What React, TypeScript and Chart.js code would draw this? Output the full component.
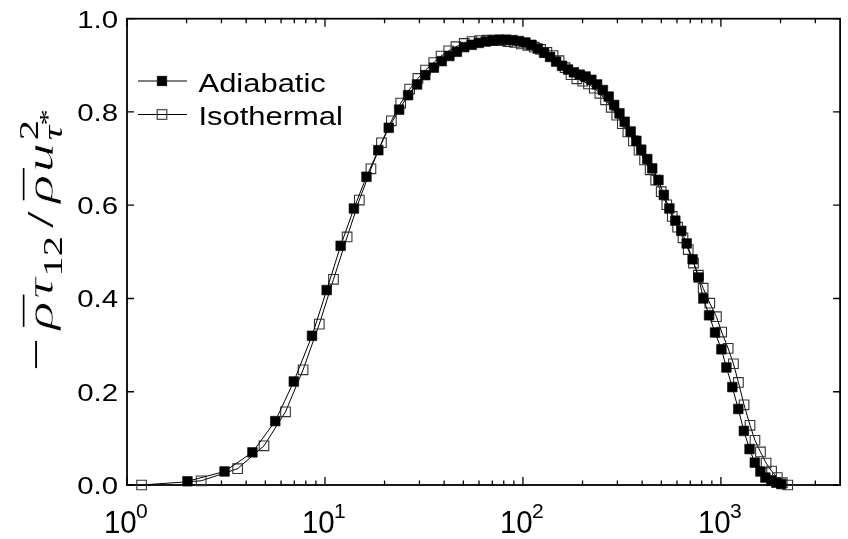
import React, { useEffect, useRef } from 'react';
import { Chart, registerables } from 'chart.js';

Chart.register(...registerables);

// ---- data ----
const adiabaticX = [2.02, 3.11, 4.30, 5.61, 6.96, 8.60, 10.2, 12.0, 14.0, 16.2, 18.6, 21.0, 23.7, 26.3, 29.2, 32.1, 35.5, 38.9, 42.5, 46.4, 50.5, 55.1, 59.8, 64.9, 70.2, 75.9, 82.1, 88.6, 95.5, 102.8, 110.5, 118.9, 127.8, 137.1, 147.1, 157.6, 169.0, 180.9, 193.6, 207.3, 221.6, 237.0, 253.4, 271.0, 289.0, 307.3, 326.6, 350, 374, 396, 424.6, 449.8, 483.7, 514.8, 549.3, 588.6, 630.8, 671.4, 719.5, 771.3, 815.3, 871.5, 934, 1006, 1066, 1142, 1224, 1306, 1395, 1483, 1584, 1677, 1798, 1905, 2018];
const adiabaticY = [0.008, 0.029, 0.070, 0.137, 0.222, 0.320, 0.418, 0.513, 0.593, 0.661, 0.718, 0.766, 0.805, 0.836, 0.859, 0.879, 0.895, 0.909, 0.920, 0.929, 0.939, 0.944, 0.948, 0.951, 0.953, 0.955, 0.955, 0.954, 0.952, 0.949, 0.944, 0.936, 0.927, 0.918, 0.908, 0.899, 0.891, 0.885, 0.880, 0.876, 0.869, 0.859, 0.847, 0.833, 0.815, 0.797, 0.779, 0.758, 0.738, 0.719, 0.699, 0.679, 0.654, 0.622, 0.593, 0.567, 0.545, 0.518, 0.484, 0.445, 0.400, 0.364, 0.327, 0.291, 0.252, 0.210, 0.163, 0.116, 0.077, 0.048, 0.029, 0.016, 0.009, 0.005, 0.002];

const isothermalX = [1.185, 2.37, 3.62, 4.92, 6.32, 7.75, 9.36, 11.04, 12.94, 14.91, 17.07, 19.29, 21.65, 24.13, 26.78, 29.47, 32.21, 35.45, 38.58, 42.16, 45.86, 50.53, 55.29, 60.37, 65.77, 71.46, 77.48, 83.92, 90.77, 98.06, 105.8, 114.1, 122.8, 132.1, 141.9, 152.2, 163.2, 174.9, 187.2, 200.4, 214.3, 229.1, 244.7, 261.4, 279.2, 297.8, 317.7, 338.9, 361.5, 385.8, 411.5, 438.9, 468.2, 499.5, 532.9, 568.0, 604.4, 643.2, 683.9, 727.2, 769.3, 813.4, 878.8, 949.3, 1009, 1088, 1157, 1226, 1309, 1403, 1486, 1584, 1691, 1803, 1927, 2042, 2176];
const isothermalY = [0.000, 0.009, 0.035, 0.084, 0.157, 0.247, 0.345, 0.441, 0.532, 0.611, 0.678, 0.734, 0.781, 0.819, 0.849, 0.872, 0.890, 0.906, 0.920, 0.931, 0.940, 0.947, 0.951, 0.953, 0.954, 0.954, 0.953, 0.951, 0.949, 0.946, 0.943, 0.939, 0.934, 0.928, 0.921, 0.910, 0.895, 0.880, 0.871, 0.866, 0.860, 0.851, 0.840, 0.826, 0.810, 0.793, 0.775, 0.757, 0.738, 0.718, 0.697, 0.676, 0.654, 0.629, 0.601, 0.576, 0.553, 0.530, 0.505, 0.476, 0.450, 0.422, 0.390, 0.361, 0.328, 0.293, 0.260, 0.220, 0.172, 0.128, 0.096, 0.071, 0.047, 0.030, 0.016, 0.005, 0.000];

const seriesLabels = ['Adiabatic', 'Isothermal'];

const xMajorTicks = [1, 10, 100, 1000];
const xTickExponents = ['0', '1', '2', '3'];
const xMinorTicks = [2, 3, 4, 5, 6, 7, 8, 9, 20, 30, 40, 50, 60, 70, 80, 90, 200, 300, 400, 500, 600, 700, 800, 900, 2000, 3000];
const yTicks = [0, 0.2, 0.4, 0.6, 0.8, 1.0];
const yTickLabels = ['0.0', '0.2', '0.4', '0.6', '0.8', '1.0'];

const W = 848;
const H = 539;
const SANS = '"Liberation Sans", Arial, Helvetica, sans-serif';
const SERIF = '"Liberation Serif", "Times New Roman", serif';

function scaledText(ctx: CanvasRenderingContext2D, text: string, x: number, y: number, sx: number, align: CanvasTextAlign) {
  ctx.save();
  ctx.translate(x, y);
  ctx.scale(sx, 1);
  ctx.textAlign = align;
  ctx.textBaseline = 'alphabetic';
  ctx.fillText(text, 0, 0);
  ctx.restore();
}

const framePlugin = {
  id: 'frameTicks',
  beforeDatasetsDraw(chart: any) {
    const { ctx, chartArea } = chart;
    const { left, right, top, bottom } = chartArea;
    const xs = chart.scales.x;
    const ys = chart.scales.y;
    ctx.save();
    ctx.strokeStyle = '#000';
    ctx.lineWidth = 1.3;
    ctx.beginPath();
    xMajorTicks.forEach((v) => {
      const px = xs.getPixelForValue(v);
      ctx.moveTo(px, bottom); ctx.lineTo(px, bottom - 8);
      ctx.moveTo(px, top); ctx.lineTo(px, top + 8);
    });
    xMinorTicks.forEach((v) => {
      const px = xs.getPixelForValue(v);
      ctx.moveTo(px, bottom); ctx.lineTo(px, bottom - 4.5);
      ctx.moveTo(px, top); ctx.lineTo(px, top + 4.5);
    });
    yTicks.forEach((v) => {
      const py = ys.getPixelForValue(v);
      ctx.moveTo(left, py); ctx.lineTo(left + 7, py);
      ctx.moveTo(right, py); ctx.lineTo(right - 7, py);
    });
    ctx.stroke();
    ctx.lineWidth = 1.8;
    ctx.strokeRect(left, top, right - left, bottom - top);
    ctx.restore();
  },
  afterDraw(chart: any) {
    const { ctx } = chart;
    const xs = chart.scales.x;
    const ys = chart.scales.y;
    ctx.save();
    ctx.fillStyle = '#000';

    // y tick labels
    ctx.font = `24.5px ${SANS}`;
    yTicks.forEach((v, i) => {
      const py = ys.getPixelForValue(v);
      scaledText(ctx, yTickLabels[i], 118, py + 9, 1.2, 'right');
    });

    // x tick labels 10^n
    xMajorTicks.forEach((v, i) => {
      const px = xs.getPixelForValue(v);
      ctx.font = `32px ${SANS}`;
      scaledText(ctx, '10', px - 23, 533, 0.92, 'left');
      ctx.font = `21px ${SANS}`;
      scaledText(ctx, xTickExponents[i], px + 9, 518, 1.0, 'left');
    });

    // legend
    const rows = [81, 114.5];
    const textBase = [91.5, 125];
    chart.data.datasets.forEach((ds: any, i: number) => {
      const y = rows[i];
      ctx.strokeStyle = ds.borderColor;
      ctx.lineWidth = ds.borderWidth;
      ctx.beginPath();
      ctx.moveTo(138, y); ctx.lineTo(187, y);
      ctx.stroke();
      const side = ds.pointRadius * Math.SQRT2;
      ctx.fillStyle = ds.pointBackgroundColor;
      ctx.fillRect(162 - side / 2, y - side / 2, side, side);
      if (ds.pointBorderWidth > 0) {
        ctx.strokeStyle = ds.pointBorderColor;
        ctx.lineWidth = ds.pointBorderWidth;
        ctx.strokeRect(162 - side / 2, y - side / 2, side, side);
      }
      ctx.fillStyle = '#000';
      ctx.font = `26px ${SANS}`;
      scaledText(ctx, seriesLabels[i], 198.5, textBase[i], 1.19, 'left');
    });

    // y axis title: -rho_bar tau_12 / rho_bar u_tau*^2 (rotated)
    const M = 42;
    const S = 29;
    const up = (s: number) => `${s}px ${SERIF}`;
    const it = (s: number) => `italic ${s}px ${SERIF}`;
    const measure = (t: string, f: string) => { ctx.font = f; return ctx.measureText(t).width; };
    const wMinus = measure('\u2212', up(M));
    const wRho = measure('\u03C1', it(M));
    const wTau = measure('\u03C4', it(M));
    const w12 = measure('12', up(S));
    const wSlash = measure('/', up(M));
    const wU = measure('u', it(M));
    const w2 = measure('2', up(S));
    const wTauS = measure('\u03C4', it(S));
    const wStar = measure('*', up(24));
    const gap = 6;
    const total = wMinus + gap + wRho + 2 + wTau + 1 + w12 + gap + wSlash + gap + wRho + 2 + wU + 2 + Math.max(w2, wTauS + wStar);
    const sA = 262 / total;

    ctx.save();
    ctx.translate(53, 371);
    ctx.rotate(-Math.PI / 2);
    ctx.scale(sA, 0.92);
    ctx.fillStyle = '#000';
    ctx.strokeStyle = '#fff';
    ctx.lineJoin = 'round';
    ctx.textAlign = 'left';
    ctx.textBaseline = 'alphabetic';
    let cx = 0;
    const put = (t: string, f: string, dy: number, thin: number) => {
      ctx.font = f;
      ctx.fillText(t, cx, dy);
      if (thin > 0) {
        ctx.lineWidth = thin;
        ctx.strokeText(t, cx, dy);
      }
    };
    const bar = (x0: number, w: number) => {
      ctx.save();
      ctx.strokeStyle = '#000';
      ctx.lineWidth = 1.8;
      ctx.beginPath();
      ctx.moveTo(x0 + 2, -0.76 * M);
      ctx.lineTo(x0 + w + 5, -0.76 * M);
      ctx.stroke();
      ctx.restore();
    };
    put('\u2212', up(M), -4, 0); cx += wMinus + gap;
    put('\u03C1', it(M), 0, 0.6); bar(cx, wRho); cx += wRho + 2;
    put('\u03C4', it(M), 0, 0.6); cx += wTau + 1;
    put('12', up(S), 10, 0); cx += w12 + gap;
    put('/', up(M), 0, 0); cx += wSlash + gap;
    put('\u03C1', it(M), 0, 0.6); bar(cx, wRho); cx += wRho + 2;
    put('u', it(M), 0, 0.6); cx += wU + 2;
    const sx = cx;
    put('2', up(S), -16, 0);
    put('\u03C4', it(S), 10, 0);
    cx = sx + wTauS;
    put('*', up(24), 2, 0);
    ctx.restore();

    ctx.restore();
  },
};

export default function App() {
  const ref = useRef<HTMLCanvasElement>(null);

  useEffect(() => {
    if (!ref.current) return;
    const chart = new Chart(ref.current, {
      type: 'scatter',
      data: {
        datasets: [
          {
            label: seriesLabels[0],
            data: adiabaticX.map((x, i) => ({ x, y: adiabaticY[i] })),
            showLine: true,
            borderColor: '#000',
            borderWidth: 1,
            backgroundColor: '#000',
            pointStyle: 'rect',
            pointRadius: 6.8,
            pointBorderWidth: 0.6,
            pointBorderColor: '#000',
            pointBackgroundColor: '#000',
            tension: 0,
            clip: false as any,
          } as any,
          {
            label: seriesLabels[1],
            data: isothermalX.map((x, i) => ({ x, y: isothermalY[i] })),
            showLine: true,
            borderColor: '#000',
            borderWidth: 1,
            backgroundColor: 'rgba(0,0,0,0)',
            pointStyle: 'rect',
            pointRadius: 6.8,
            pointBorderWidth: 1.1,
            pointBorderColor: '#333',
            pointBackgroundColor: 'rgba(0,0,0,0)',
            tension: 0,
            clip: false as any,
          } as any,
        ],
      },
      options: {
        responsive: false,
        maintainAspectRatio: false,
        animation: false,
        devicePixelRatio: 1,
        layout: { padding: { top: 18.7, right: 4, bottom: 0, left: 0 } },
        plugins: {
          legend: { display: false },
          tooltip: { enabled: false },
          title: { display: false },
        },
        scales: {
          x: {
            type: 'logarithmic',
            min: 1,
            max: 4000,
            grid: { display: false },
            border: { display: false },
            ticks: { display: false },
            afterFit: (s: any) => { s.height = 54; },
          },
          y: {
            type: 'linear',
            min: 0,
            max: 1,
            grid: { display: false },
            border: { display: false },
            ticks: { display: false, stepSize: 0.2 },
            afterFit: (s: any) => { s.width = 127; },
          },
        },
      } as any,
      plugins: [framePlugin],
    });
    return () => chart.destroy();
  }, []);

  return (
    <div style={{ position: 'fixed', left: 0, top: 0, width: W, height: H, background: '#fff' }}>
      <canvas ref={ref} width={W} height={H} style={{ display: 'block', width: W, height: H }} />
    </div>
  );
}
